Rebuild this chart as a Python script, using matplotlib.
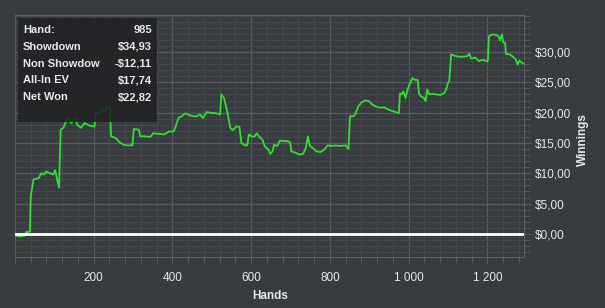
"""Poker winnings graph (dark theme) recreated with matplotlib."""

import matplotlib

matplotlib.use("Agg")
import matplotlib.pyplot as plt  # noqa: E402
from matplotlib.patches import Rectangle  # noqa: E402
from matplotlib.ticker import FuncFormatter, MultipleLocator  # noqa: E402

# data
hands = [1, 10, 25, 28, 38, 40, 47, 60, 67, 74, 79, 89, 97, 102, 107, 112, 114, 116,
         123, 133, 143, 153, 158, 168, 177, 187, 202, 205, 215, 222, 228, 234, 241, 244,
         256, 266, 276, 285, 298, 302, 315, 318, 330, 344, 351, 364, 379, 391, 403, 408,
         415, 423, 433, 442, 452, 462, 470, 477, 487, 496, 511, 521, 524, 531, 536, 540,
         547, 553, 562, 570, 575, 585, 590, 594, 604, 609, 614, 621, 629, 634, 644, 648,
         654, 658, 666, 673, 683, 693, 699, 702, 712, 722, 732, 739, 744, 749, 756, 766,
         776, 786, 794, 805, 815, 825, 840, 847, 851, 860, 864, 872, 879, 889, 899, 908,
         918, 928, 938, 948, 962, 975, 978, 982, 987, 992, 997, 1002, 1010, 1016, 1023,
         1026, 1031, 1039, 1043, 1047, 1053, 1061, 1070, 1080, 1090, 1095, 1100, 1103,
         1108, 1120, 1134, 1149, 1154, 1159, 1169, 1178, 1188, 1198, 1201, 1204, 1213,
         1223, 1228, 1232, 1237, 1240, 1245, 1247, 1257, 1265, 1272, 1277, 1281, 1286, 1291]
winnings = [-0.2, -0.4, -0.3, 0.3, 0.4, 6.2, 9.0, 9.2, 10.0, 9.8, 10.3, 10.0, 9.8, 10.5,
            9.0, 7.6, 12.8, 17.2, 17.5, 19.1, 18.3, 19.1, 18.0, 17.5, 18.3, 17.9, 17.7,
            19.9, 20.2, 20.5, 20.2, 21.0, 20.8, 16.1, 15.8, 15.1, 14.7, 14.6, 14.6, 17.3,
            17.2, 16.1, 16.1, 16.0, 16.6, 16.5, 16.4, 16.9, 16.9, 17.7, 19.1, 19.4, 19.9,
            19.6, 19.4, 19.4, 19.7, 19.1, 20.1, 20.0, 19.9, 19.7, 23.0, 22.4, 21.0, 19.9,
            17.5, 17.1, 17.7, 17.7, 15.0, 14.6, 14.6, 16.4, 16.0, 16.1, 16.6, 16.0, 15.5,
            14.5, 13.9, 13.2, 13.6, 14.7, 14.5, 15.4, 15.3, 15.3, 15.1, 13.6, 13.4, 13.1,
            13.2, 14.2, 16.1, 14.5, 14.2, 13.6, 13.5, 13.9, 14.6, 14.5, 14.6, 14.5, 14.6,
            14.0, 19.4, 19.4, 19.7, 21.0, 21.6, 22.0, 21.9, 21.3, 21.0, 20.8, 20.9, 20.5,
            20.2, 19.9, 23.2, 23.0, 23.5, 22.4, 23.8, 24.6, 25.7, 25.4, 25.4, 23.2, 22.7,
            22.4, 21.9, 23.8, 23.0, 23.1, 23.0, 22.9, 23.2, 23.8, 24.9, 25.2, 29.6, 29.3,
            29.2, 29.3, 29.7, 28.9, 29.1, 28.5, 28.7, 28.5, 28.5, 32.6, 32.9, 32.8, 32.6,
            31.9, 32.9, 31.6, 31.5, 29.7, 29.6, 29.2, 28.8, 27.9, 28.6, 28.3, 28.1]

tip_labels = ["Hand:", "Showdown", "Non Showdown", "All-In EV", "Net Won"]
tip_values = ["985", "$34,93", "-$12,11", "$17,74", "$22,82"]

BG = "#383b3f"
TEXT = "#e6e8ea"
plt.rcParams["font.family"] = ["Liberation Sans", "DejaVu Sans"]

fig = plt.figure(figsize=(6.05, 3.08), dpi=100, facecolor=BG)
ax = fig.add_axes([15 / 605, 1 - 257 / 308, 509 / 605, 242 / 308], facecolor=BG)

ax.plot(hands, winnings, color="#33dd33", lw=1.3, zorder=3)
ax.axhline(0, color="white", lw=2, zorder=4)

ax.set_xlim(0, 1293)
ax.set_ylim(-3.8, 36.1)

ax.xaxis.set_major_locator(MultipleLocator(200))
ax.xaxis.set_minor_locator(MultipleLocator(40))
ax.yaxis.set_major_locator(MultipleLocator(5))
ax.yaxis.set_minor_locator(MultipleLocator(1))
ax.set_xticks([200, 400, 600, 800, 1000, 1200])
ax.xaxis.set_major_formatter(FuncFormatter(lambda v, _: f"{int(v):,}".replace(",", " ")))
ax.yaxis.set_major_formatter(FuncFormatter(lambda v, _: f"${v:.2f}".replace(".", ",")))
ax.set_yticks([0, 5, 10, 15, 20, 25, 30])

ax.yaxis.tick_right()
ax.tick_params(which="both", direction="out", color="#5c5f63", labelcolor=TEXT, labelsize=8.5)
ax.tick_params(which="major", length=5, pad=3)
ax.tick_params(which="minor", length=4)
ax.tick_params(axis="x", pad=6)

ax.grid(which="major", color="#595c60", lw=0.9)
ax.grid(which="minor", color="#46494d", lw=0.7)
ax.set_axisbelow(True)
for s in ax.spines.values():
    s.set_color("#5c5f63")

fig.text(270 / 605, 1 - 296 / 308, "Hands", color=TEXT, fontsize=8.5,
         fontweight="bold", ha="center", va="center")
fig.text(583 / 605, 1 - 140 / 308, "Winnings", color=TEXT, fontsize=8.5,
         fontweight="bold", ha="center", va="center", rotation=90)

# hover tooltip panel
fig.patches.append(Rectangle((18 / 605, 1 - 122 / 308), 139 / 605, 104 / 308,
                             transform=fig.transFigure, facecolor="#1f2123",
                             alpha=0.88, edgecolor="none", zorder=5))
clip = Rectangle((18 / 605, 0), 82 / 605, 1, transform=fig.transFigure,
                 facecolor="none", edgecolor="none")
fig.patches.append(clip)
for i, (lab, val) in enumerate(zip(tip_labels, tip_values)):
    y = 1 - (30 + i * 16.8) / 308
    t = fig.text(23 / 605, y, lab, color=TEXT, fontsize=8, fontweight="bold",
                 ha="left", va="center", zorder=6)
    t.set_clip_path(clip)
    fig.text(152 / 605, y, val, color=TEXT, fontsize=8, fontweight="bold",
             ha="right", va="center", zorder=6)

fig.savefig("out.png", dpi=100, facecolor=BG)
